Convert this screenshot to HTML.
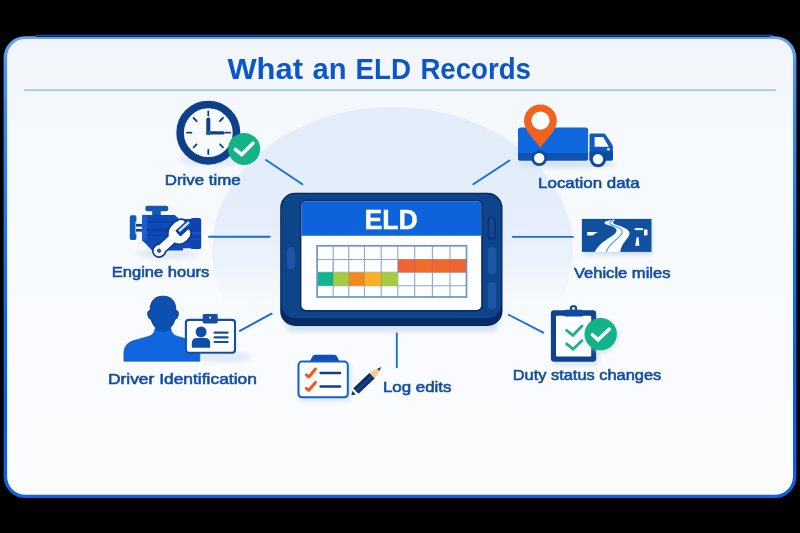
<!DOCTYPE html>
<html lang="en">
<head>
<meta charset="utf-8">
<title>What an ELD Records</title>
<style>
  html, body { margin: 0; padding: 0; background: #000; }
  body { width: 800px; height: 533px; overflow: hidden; font-family: "Liberation Sans", sans-serif; }
  svg { display: block; position: absolute; left: 0; top: 0; }
  text { font-family: "Liberation Sans", sans-serif; }
  .lbl { font-size: 15.4px; font-weight: 400; fill: #124e9e; stroke: #124e9e; stroke-width: 0.6px; }
  .ln { stroke: #146be6; stroke-width: 1.85; stroke-linecap: round; fill: none; }
</style>
</head>
<body>
<svg width="800" height="533" viewBox="0 0 800 533">
  <defs>
    <linearGradient id="cardbg" x1="0" y1="0" x2="0" y2="1">
      <stop offset="0" stop-color="#f2f6fc"/>
      <stop offset="0.11" stop-color="#f3f7fc"/>
      <stop offset="0.26" stop-color="#f7fafd"/>
      <stop offset="1" stop-color="#fafcfe"/>
    </linearGradient>
    <linearGradient id="cardbd" x1="0" y1="0" x2="0" y2="1">
      <stop offset="0" stop-color="#69a5f4"/>
      <stop offset="0.05" stop-color="#5596f0"/>
      <stop offset="0.16" stop-color="#3c8cea"/>
      <stop offset="0.5" stop-color="#1470e2"/>
      <stop offset="0.8" stop-color="#0b5de0"/>
      <stop offset="1" stop-color="#1062e2"/>
    </linearGradient>
    <linearGradient id="halo" x1="0" y1="0" x2="0" y2="1">
      <stop offset="0" stop-color="#e2edf9"/>
      <stop offset="0.42" stop-color="#e5eefa"/>
      <stop offset="0.55" stop-color="#e8f0fb" stop-opacity="0.7"/>
      <stop offset="0.76" stop-color="#f2f6fc" stop-opacity="0"/>
    </linearGradient>
  </defs>

  <!-- background -->
  <rect x="0" y="0" width="800" height="533" fill="#000"/>

  <!-- card -->
  <rect x="3.6" y="36.2" width="792.8" height="461.9" rx="21.5" fill="url(#cardbd)"/>
  <rect x="7.1" y="38.9" width="785.9" height="455.9" rx="18.4" fill="url(#cardbg)"/>
  <line x1="36" y1="36.5" x2="770" y2="36.5" stroke="#000" stroke-width="0.7"/>
  <line x1="36" y1="35.3" x2="773" y2="35.3" stroke="#1a5cf4" stroke-width="1"/>

  <!-- halo -->
  <ellipse cx="392.5" cy="250" rx="180.5" ry="143" fill="url(#halo)"/>

  <!-- title -->
  <g font-size="29.8" font-weight="700" fill="#0b57c8" opacity="0.999">
    <text id="t1" x="227.4" y="79.1" textLength="75.6" lengthAdjust="spacingAndGlyphs">What</text>
    <text id="t2" x="312.6" y="79.1" textLength="34" lengthAdjust="spacingAndGlyphs">an</text>
    <text id="t3" x="355.6" y="79.1" textLength="55.4" lengthAdjust="spacingAndGlyphs">ELD</text>
    <text id="t4" x="420.4" y="79.1" textLength="110.6" lengthAdjust="spacingAndGlyphs">Records</text>
  </g>
  <line x1="24" y1="90.2" x2="776" y2="90.2" stroke="#7db1f6" stroke-width="1.3"/>

  <!-- connector lines -->
  <g class="ln">
    <line x1="266" y1="160" x2="302.4" y2="184.2"/>
    <line x1="473.3" y1="184.2" x2="509.5" y2="160.4"/>
    <line x1="209" y1="236.7" x2="269.7" y2="236.7"/>
    <line x1="512.8" y1="236.8" x2="573" y2="236.8"/>
    <line x1="239.8" y1="330.9" x2="271.6" y2="313.6"/>
    <line x1="508.6" y1="314.7" x2="543.3" y2="332.6"/>
    <line x1="396.8" y1="333.2" x2="396.8" y2="367.3"/>
  </g>

  <!-- labels -->
  <g class="lbl" opacity="0.999">
    <text id="l1" x="164.7" y="184.5" textLength="76" lengthAdjust="spacingAndGlyphs">Drive time</text>
    <text id="l2" x="111.7" y="277.4" textLength="97.6" lengthAdjust="spacingAndGlyphs">Engine hours</text>
    <text id="l3" x="107.9" y="384" textLength="149" lengthAdjust="spacingAndGlyphs">Driver Identification</text>
    <text id="l4" x="382.9" y="391.6" textLength="68.6" lengthAdjust="spacingAndGlyphs">Log edits</text>
    <text id="l5" x="512.7" y="380.4" textLength="148.6" lengthAdjust="spacingAndGlyphs">Duty status changes</text>
    <text id="l6" x="538.1" y="187.6" textLength="101.6" lengthAdjust="spacingAndGlyphs">Location data</text>
    <text id="l7" x="573.9" y="277.6" textLength="96.6" lengthAdjust="spacingAndGlyphs">Vehicle miles</text>
  </g>

  <!-- TABLET -->
  <g id="tablet">
    <defs>
      <linearGradient id="orangeBand" x1="0" y1="0" x2="1" y2="0">
        <stop offset="0" stop-color="#eb6236"/><stop offset="0.4" stop-color="#f26c2b"/><stop offset="1" stop-color="#ee6230"/>
      </linearGradient>
      <filter id="tshadow" x="-10%" y="-10%" width="120%" height="130%">
        <feGaussianBlur stdDeviation="3"/>
      </filter>
    </defs>
    <!-- soft shadow -->
    <rect x="286" y="318" width="212" height="13" rx="6" fill="#b4c9e8" opacity="0.6" filter="url(#tshadow)"/>
    <!-- body -->
    <rect x="280.2" y="192.8" width="222.3" height="133.2" rx="15" fill="#05265a"/>
    <rect x="281.4" y="210" width="219.9" height="115" rx="13.9" fill="#072c63"/>
    <rect x="281.5" y="194.1" width="219.7" height="123.8" rx="13.7" fill="#0e4489"/>
    <!-- screen bezel -->
    <rect x="299.9" y="199.8" width="182.8" height="111.6" rx="6" fill="#07295c"/>
    <!-- screen -->
    <rect x="301.4" y="201.2" width="179.8" height="108.7" rx="4.5" fill="#fdfeff"/>
    <path d="M301.4 235.8 L301.4 205.7 Q301.4 201.2 305.9 201.2 L476.7 201.2 Q481.2 201.2 481.2 205.7 L481.2 235.8 Z" fill="#0d63dc"/>
    <text x="364.5" y="228.7" font-size="28.5" font-weight="700" fill="#ffffff" opacity="0.999" stroke="#ffffff" stroke-width="0.5" textLength="53.4" lengthAdjust="spacingAndGlyphs">ELD</text>
    <!-- grid lines -->
    <g stroke="#7f9dcc" stroke-width="1.1" fill="none" opacity="0.9">
      <path d="M333.2 246 V297 M348.8 246 V297 M364.5 246 V297 M381.2 246 V297 M397.8 246 V297 M414.7 246 V297 M432.4 246 V297 M450 246 V297"/>
      <path d="M317 259.5 H466.5 M317 272.3 H466.5 M317 285.8 H466.5"/>
    </g>
    <!-- grid fills -->
    <g>
    <rect x="398" y="259.3" width="68" height="13" fill="url(#orangeBand)"/>
    <rect x="317.5" y="272.3" width="15.8" height="13.4" fill="#12b48c"/>
    <rect x="333.2" y="272.3" width="15.7" height="13.4" fill="#a6cb42"/>
    <rect x="348.8" y="272.3" width="15.8" height="13.4" fill="#f08a1e"/>
    <rect x="364.5" y="272.3" width="16.8" height="13.4" fill="#fbb01d"/>
    <rect x="381.2" y="272.3" width="16.7" height="13.4" fill="#a6cb42"/>
    </g>
    <g stroke="#5f6f9a" stroke-width="1" fill="none" opacity="0.28">
      <path d="M333.2 259.5 V285.8 M348.8 272.3 V285.8 M364.5 272.3 V285.8 M381.2 272.3 V285.8 M414.7 259.5 V272.3 M432.4 259.5 V272.3 M450 259.5 V272.3"/>
    </g>
    <rect x="317.1" y="245.8" width="149.4" height="51.2" fill="none" stroke="#7092c8" stroke-width="1.7"/>
    <!-- side buttons -->
    <rect x="287" y="247.2" width="7.8" height="22" rx="3.6" fill="#1f55a6"/>
    <rect x="488.2" y="217.2" width="7" height="21.8" rx="3.5" fill="#12478f" stroke="#0a2d66" stroke-width="1.2"/>
    <rect x="487.6" y="247.2" width="8.6" height="26.5" rx="3.2" fill="#1f55a6"/>
    <rect x="487.6" y="282" width="8.6" height="27" rx="3.2" fill="#1f55a6"/>
  </g>

  <!-- ICONS -->
  <g id="icons">
    <defs>
      <filter id="soft" x="-30%" y="-30%" width="160%" height="160%"><feGaussianBlur stdDeviation="2.2"/></filter>
    </defs>

    <!-- ===== CLOCK ===== -->
    <g id="clock">
      <ellipse cx="210" cy="160" rx="30" ry="7" fill="#c9d8ee" opacity="0.45" filter="url(#soft)"/>
      <circle cx="208.3" cy="132.7" r="28.2" fill="#f8fbfe" stroke="#0e3f8a" stroke-width="7.6"/>
      <g stroke="#0e3f8a" stroke-width="1.8" stroke-linecap="round">
        <line x1="208.3" y1="111.4" x2="208.3" y2="115.6"/>
        <line x1="208.3" y1="149.8" x2="208.3" y2="154"/>
        <line x1="187" y1="132.7" x2="191.4" y2="132.7"/>
        <line x1="225.4" y1="132.7" x2="230.2" y2="132.7"/>
        <line x1="193.6" y1="118" x2="196.6" y2="121"/>
        <line x1="223" y1="118" x2="220" y2="121"/>
        <line x1="193.6" y1="147.4" x2="196.6" y2="144.4"/>
        <line x1="223" y1="147.4" x2="220" y2="144.4"/>
      </g>
      <line x1="208.3" y1="132.7" x2="208.3" y2="119.6" stroke="#0e3f8a" stroke-width="4" stroke-linecap="round"/>
      <line x1="208.3" y1="132.9" x2="223" y2="132.9" stroke="#0e3f8a" stroke-width="3.4" stroke-linecap="round"/>
      <circle cx="208.3" cy="132.9" r="2.3" fill="#0b6c80"/>
      <!-- badge -->
      <circle cx="244.1" cy="148.9" r="16" fill="#12b386"/>
      <polyline points="235.4,149.3 241.7,154.6 253,143.2" fill="none" stroke="#ffffff" stroke-width="3.5" stroke-linecap="round" stroke-linejoin="miter"/>
    </g>

    <!-- ===== ENGINE ===== -->
    <g id="engine">
      <ellipse cx="168" cy="254" rx="32" ry="5" fill="#c9d8ee" opacity="0.45" filter="url(#soft)"/>
      <!-- top cap -->
      <rect x="145.4" y="205.7" width="22.8" height="5.6" rx="2" fill="#1257b0"/>
      <rect x="152.2" y="210" width="8.6" height="6" fill="#1257b0"/>
      <!-- left flange -->
      <rect x="129.8" y="215.3" width="6.6" height="24.8" rx="1.8" fill="#1459bc"/>
      <rect x="135.5" y="221.4" width="7.5" height="12.8" fill="#e9f0fb"/>
      <rect x="136" y="224" width="6.6" height="2.6" fill="#0d3f9a"/>
      <rect x="136" y="229" width="6.6" height="2.6" fill="#0d3f9a"/>
      <!-- body -->
      <path d="M142.2 216.6 Q142.2 215.1 143.7 215.1 L174.8 215.1 L179.2 219 L191 219 L191 248.2 L183 248.2 L183 250.5 L152 250.5 L146 244 L142.2 240.5 Z" fill="#1049b8"/>
      <rect x="142.2" y="214.8" width="5" height="26" fill="#1a5ec8"/>
      <rect x="147" y="221" width="43" height="1.6" fill="#0c3c9e" opacity="0.7"/>
      <rect x="147" y="228.2" width="43" height="3.2" fill="#0c3c9e" opacity="0.8"/>
      <rect x="147" y="234.5" width="43" height="1.4" fill="#0c3c9e" opacity="0.6"/>
      <!-- right block -->
      <rect x="190.4" y="218.1" width="10.8" height="31" rx="2.2" fill="#0e41b2"/>
      <rect x="190.6" y="232.2" width="10.4" height="2" fill="#1a5ed8" opacity="0.85"/>
      <rect x="190.6" y="238.6" width="10.4" height="1.6" fill="#1a5ed8" opacity="0.5"/>
      <!-- wrench -->
      <g transform="translate(159.1 250.8) rotate(-42.3)">
        <path id="wr" d="M0 -6.3 A6.3 6.3 0 1 0 0 6.3 Q2.4 6.3 4.4 5 L16.6 5 Q18.4 9.2 22.6 10.8 Q27.4 12.4 32.4 10.8 Q36.8 8.6 37.2 5 Q37.2 3 35 3 L26.2 3 L26.2 -3 L37.8 -3 Q39.6 -3.4 39.4 -5.4 Q38.8 -8.4 35.8 -9.8 Q30 -11.8 24.6 -10.6 Q19.2 -9.2 16.6 -5 L4.4 -5 Q2.4 -6.3 0 -6.3 Z" fill="#ffffff" stroke="#0d3a94" stroke-width="1.7" stroke-linejoin="round"/>
        <circle cx="0" cy="0" r="2.1" fill="#1557c8"/>
        <rect x="27.8" y="-2.4" width="13.6" height="2.5" rx="0.6" fill="#cfe9ff" stroke="#2f7fe6" stroke-width="0.5"/>
      </g>
    </g>

    <!-- ===== DRIVER ID ===== -->
    <g id="driver">
      <ellipse cx="222" cy="357" rx="30" ry="5.5" fill="#dbe5f4" opacity="0.8" filter="url(#soft)"/>
      <!-- body -->
      <path d="M123.9 361.3 L123.9 352 Q124.5 343.5 133.5 340.6 L149 336.2 Q154.6 334.4 154.9 329 L171 329 Q171.3 334.4 177 336.2 L192.5 340.6 Q199.4 343.2 199.8 352 L199.8 361.3 Z" fill="#0f66de" stroke="#0c3f94" stroke-width="0.7" stroke-opacity="0.7"/>
      <!-- head -->
      <path d="M163 296.2 C171.5 296.2 176 301.5 175.8 310.6 C178 310.4 178.7 312.4 178.1 315.2 C177.5 318.2 176.1 319.4 174.9 319.2 C173.7 324.6 170.6 328 167.2 329.7 C164.6 331 161.4 331 158.8 329.7 C155.4 328 152.3 324.6 151.1 319.2 C149.9 319.4 148.5 318.2 147.9 315.2 C147.3 312.4 148 310.4 150.2 310.6 C150 301.5 154.5 296.2 163 296.2 Z" fill="#0b50b2" stroke="#0a2f7a" stroke-width="0.9"/>
      <path d="M155.2 329 Q163 334.8 170.8 329 L170.8 326 L155.2 326 Z" fill="#0b50b2"/>
      <!-- card -->
      <rect x="185.9" y="319.9" width="49.1" height="32.8" rx="3" fill="#ffffff" stroke="#14509f" stroke-width="2.1"/>
      <rect x="202.7" y="314" width="15" height="9.4" rx="1.4" fill="#14509f"/>
      <circle cx="210.1" cy="317.6" r="1.1" fill="#eaf1fb"/>
      <circle cx="201.1" cy="331.9" r="5.5" fill="#0f4fa8"/>
      <path d="M191.8 347.7 L191.8 343.4 Q191.8 338 197.2 338 L204.8 338 Q210.2 338 210.2 343.4 L210.2 347.7 Z" fill="#0f4fa8"/>
      <g stroke="#14509f" stroke-width="2.2" stroke-linecap="round">
        <line x1="214.6" y1="332.6" x2="227.6" y2="332.6"/>
        <line x1="214.6" y1="337.3" x2="227.6" y2="337.3"/>
        <line x1="214.6" y1="342" x2="227.6" y2="342"/>
      </g>
    </g>
    <!-- ===== LOG EDITS ===== -->
    <g id="logedits">
      <rect x="299" y="364" width="52" height="37" rx="4" fill="#c5d6ef" opacity="0.6" filter="url(#soft)"/>
      <path d="M309.7 361.6 L312.4 356.4 Q313.2 354.7 315.2 354.7 L334.2 354.7 Q336.2 354.7 337 356.4 L339.5 361.6 Z" fill="#0d4fb4"/>
      <rect x="298.5" y="361.6" width="49.3" height="35.6" rx="3.4" fill="#ffffff" stroke="#1463c4" stroke-width="2"/>
      <g fill="none" stroke="#f05a22" stroke-width="3.1" stroke-linecap="round" stroke-linejoin="round">
        <polyline points="306.4,375 308.9,376.9 315.4,369"/>
        <polyline points="306.4,388.4 308.9,390.3 315.4,382.4"/>
      </g>
      <g stroke="#123f86" stroke-width="2.5" stroke-linecap="round">
        <line x1="320.6" y1="373.1" x2="340" y2="373.1"/>
        <line x1="320.6" y1="386.6" x2="340" y2="386.6"/>
      </g>
      <!-- pencil -->
      <g transform="translate(351.4 395.2) rotate(-43.3)">
        <path d="M0 0 L4 -2.8 L4 2.8 Z" fill="#0d3a7c"/>
        <rect x="3.6" y="-3.6" width="3" height="7.2" fill="#ffffff"/>
        <rect x="6.2" y="-3.8" width="22.4" height="7.6" fill="#0c2c62"/>
        <rect x="6.2" y="-0.8" width="22.4" height="2.2" fill="#15458f"/>
        <path d="M28.4 -3.8 L37.4 -1.5 L37.4 1.5 L28.4 3.8 Z" fill="#f7c98b"/>
        <path d="M37 -1.6 L41 0 L37 1.6 Z" fill="#123f86"/>
      </g>
    </g>

    <!-- ===== DUTY STATUS ===== -->
    <g id="duty">
      <rect x="553" y="316" width="46" height="50" rx="4" fill="#c5d6ef" opacity="0.5" filter="url(#soft)"/>
      <rect x="550.9" y="310.2" width="45.3" height="51.5" rx="3.2" fill="#0f438f"/>
      <rect x="556" y="315.8" width="35.2" height="40.8" rx="0.8" fill="#fbfdff"/>
      <circle cx="573.5" cy="308.7" r="3.7" fill="#0f4aa0"/>
      <circle cx="573.5" cy="308.4" r="1.5" fill="#f1f6fd"/>
      <rect x="563.6" y="309.8" width="19.8" height="6.8" rx="2" fill="#0f4aa0"/>
      <g fill="none" stroke="#19b585" stroke-width="2.8" stroke-linecap="round" stroke-linejoin="miter">
        <polyline points="566.6,330.4 572.9,335.3 582,326"/>
        <polyline points="566.6,343.8 573.1,349.2 582,340.6"/>
      </g>
      <circle cx="601.6" cy="336" r="16.5" fill="#b9cbe6" opacity="0.55" filter="url(#soft)"/>
      <circle cx="600.7" cy="334.1" r="16.2" fill="#12b386"/>
      <polyline points="592.4,334.7 598.1,339.8 609.2,329.2" fill="none" stroke="#ffffff" stroke-width="3.5" stroke-linecap="round" stroke-linejoin="miter"/>
    </g>

    <!-- ===== TRUCK + PIN ===== -->
    <g id="truck">
      <ellipse cx="566" cy="164" rx="50" ry="4" fill="#c2d3ec" opacity="0.6" filter="url(#soft)"/>
      <rect x="518" y="127.6" width="70.1" height="33" rx="2.6" fill="#1068e0"/>
      <path d="M518 153 L588.1 153 L588.1 158 Q588.1 160.6 585.5 160.6 L520.6 160.6 Q518 160.6 518 158 Z" fill="#0f52b0"/>
      <!-- cab -->
      <path d="M589.5 135 Q589.5 133.5 591 133.5 L603.4 133.5 Q604.9 133.5 605.7 134.8 L612.2 144.4 Q612.9 145.5 612.9 146.8 L612.9 159 Q612.9 160.6 611.3 160.6 L589.5 160.6 Z" fill="#1059c2"/>
      <path d="M589.5 151.5 L612.9 151.5 L612.9 159 Q612.9 160.6 611.3 160.6 L589.5 160.6 Z" fill="#0e4aa4"/>
      <path d="M594.6 136.9 L603.2 136.9 L608.8 146.8 L594.6 146.8 Z" fill="#fbfdff"/>
      <circle cx="608.4" cy="149.3" r="1.3" fill="#ffffff"/>
      <!-- wheels -->
      <circle cx="539.2" cy="158.1" r="8" fill="#0e4a9c"/>
      <circle cx="539.2" cy="158.1" r="5.2" fill="#fbfdff"/>
      <circle cx="598" cy="159.1" r="8.2" fill="#0e4a9c"/>
      <circle cx="598" cy="159.1" r="5.2" fill="#fbfdff"/>
      <!-- pin -->
      <path d="M540.4 148 C537 141.5 524 132 524 120.8 A16.4 16.4 0 0 1 556.8 120.8 C556.8 132 543.8 141.5 540.4 148 Z" fill="#f2621f"/>
      <circle cx="540.5" cy="120.6" r="9.1" fill="#fbfdff"/>
    </g>

    <!-- ===== ROAD SIGN ===== -->
    <g id="road">
      <rect x="584" y="222" width="68" height="33" fill="#bed0ea" opacity="0.7" filter="url(#soft)"/>
      <rect x="581.9" y="218.9" width="69.6" height="33" fill="#10509f"/>
      <path d="M594.7 251.9 C598 245.5 603.5 241.5 610 237.2 C615 234 618.2 231.4 615.6 228.4 C613.2 225.8 607 225.6 604.8 223.6 C603.6 222.2 606 221 609 220.6 L613.6 219.6 L614.8 220.6 C613.2 221.6 612.4 222.6 613.6 223.6 C616.5 225.6 625 226.6 628.8 231 C631 234 628 237.6 625.6 240.4 C622.6 244 620.8 247.5 620.2 251.9 Z" fill="#fbfdff"/>
      <path d="M606.3 251.9 C608.5 245 614 241.5 618.4 237.6 C622.6 234 623.4 231.6 620.6 228.8 C617.8 226.2 611 225.6 609.8 223.6 C609 222.2 611 221.2 613.4 220.4" fill="none" stroke="#4aa0f5" stroke-width="1.15"/>
      <path d="M587.2 232 L597.9 232 L592.4 235.6 L587.2 235.6 Z" fill="#fbfdff"/>
      <rect x="634.7" y="228.1" width="8.3" height="2" fill="#fbfdff"/>
      <rect x="644" y="229.5" width="3.5" height="5.9" fill="#fbfdff"/>
      <path d="M636.6 237.2 L638.6 237.2 L639.4 245.8 L635.2 245.8 Z" fill="#fbfdff"/>
    </g>
  </g>
</svg>
</body>
</html>
